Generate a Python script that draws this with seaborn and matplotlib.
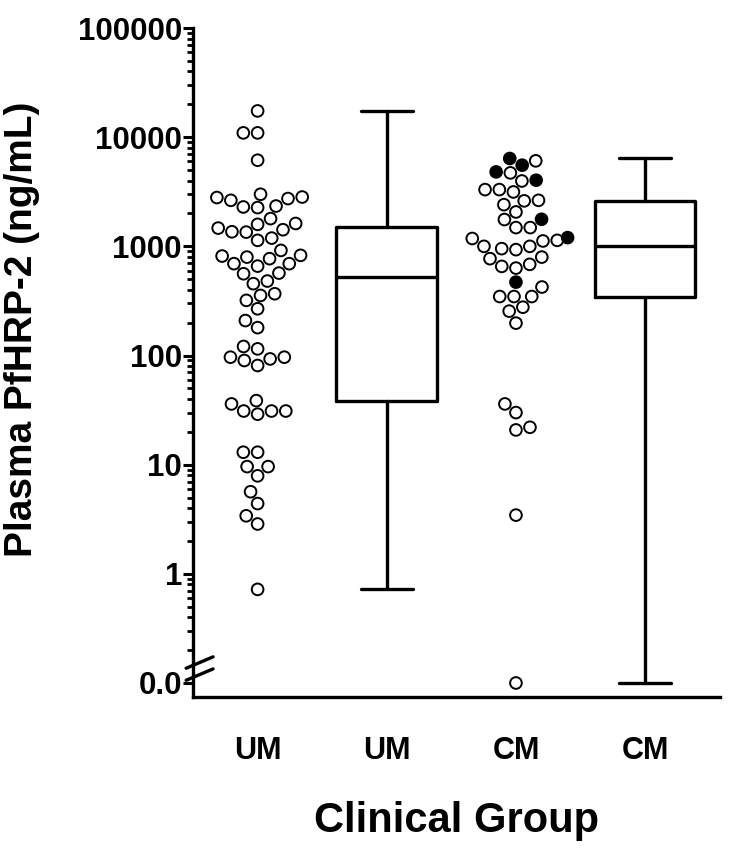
import numpy as np
import pandas as pd
import seaborn as sns
import matplotlib
matplotlib.use("Agg")
import matplotlib.pyplot as plt
from matplotlib.ticker import FixedLocator, FixedFormatter

sns.set_style("ticks")
plt.rcParams['font.family'] = ['Liberation Sans', 'DejaVu Sans']
plt.rcParams['font.weight'] = 'bold'
for key in ['text.color', 'axes.labelcolor', 'xtick.color', 'ytick.color']:
    plt.rcParams[key] = 'black'

# plasma PfHRP-2 (ng/mL)
um_values = [17400, 10950, 10950, 6150,
             3000, 2800, 2640, 2740, 2830, 2340, 2265, 2295,
             1590, 1350, 1420, 1135, 1795, 1470, 1190, 1620, 1360,
             918, 771, 815, 694, 797, 659, 827, 694, 569,
             561, 455, 481, 368, 320, 355, 268, 209, 180, 121, 115,
             96.5, 96.5, 81, 90, 93,
             31, 38.6, 31, 36, 29, 31,
             13, 13, 9.6, 9.6, 7.9, 5.65, 4.4, 3.4, 2.86, 0.72]
cm_open = [6070, 4710, 3970, 3310, 3310, 3150, 2640, 2610, 2410, 2065, 1760,
           1485, 1485, 1180, 1000, 1120, 933, 1135, 953, 1000,
           771, 797, 655, 632, 684, 424, 347, 347, 347, 277, 255, 198,
           36, 30, 20.8, 22, 3.45, 0.0]
cm_filled = [6380, 5540, 4035, 4810, 1770, 1202, 470]

group_keys = ["UM_pts", "UM_box", "CM_pts", "CM_box"]
group_labels = ["UM", "UM", "CM", "CM"]
tick_values = [0.1, 1, 10, 100, 1000, 10000, 100000]
tick_labels = ["0.0", "1", "10", "100", "1000", "10000", "100000"]

BREAK = 0.1  # zero values are drawn on the axis break

def plot_val(v):
    v = np.asarray(v, dtype=float)
    return np.where(v > 0, v, BREAK)

pts = pd.concat([
    pd.DataFrame({"group": "UM_pts", "value": um_values, "kind": "open"}),
    pd.DataFrame({"group": "CM_pts", "value": cm_open, "kind": "open"}),
    pd.DataFrame({"group": "CM_pts", "value": cm_filled, "kind": "filled"}),
])
pts["y"] = plot_val(pts["value"])

fig = plt.figure(figsize=(7.47, 8.57), dpi=100)
ax = fig.add_axes([0.2584, 0.1867, 0.7055, 0.7806])
ax.set_yscale("log")
ax.set_ylim(0.0744, 100000)
ax.set_xlim(-0.5, 3.58)

sns.swarmplot(data=pts, x="group", y="y", hue="kind", order=group_keys,
              hue_order=["open", "filled"],
              palette={"open": "white", "filled": "black"},
              edgecolor="black", linewidth=1.4, size=8.4, legend=False,
              ax=ax, zorder=3)

# box plots (GraphPad style percentiles, whiskers min to max)
stats = []
for vals in [um_values, cm_open + cm_filled]:
    v = np.asarray(vals, dtype=float)
    q1, med, q3 = np.percentile(v, [25, 50, 75], method="weibull")
    st = dict(med=med, q1=q1, q3=q3, whislo=v.min(), whishi=v.max(), fliers=[])
    stats.append({k: (plot_val(x) if k != "fliers" else x) for k, x in st.items()})
lw = 2.4
ax.bxp(stats, positions=[1, 3], widths=0.78, showfliers=False,
       boxprops=dict(linewidth=lw, color="black"),
       medianprops=dict(linewidth=lw, color="black"),
       whiskerprops=dict(linewidth=lw, color="black"),
       capprops=dict(linewidth=lw, color="black"),
       capwidths=0.4, manage_ticks=False)

ax.set_xlim(-0.5, 3.58)
ax.set_ylim(0.0744, 100000)

minor = [k * 10.0 ** d for d in range(-1, 5) for k in range(2, 10)]
ax.yaxis.set_major_locator(FixedLocator(tick_values))
ax.yaxis.set_major_formatter(FixedFormatter(tick_labels))
ax.yaxis.set_minor_locator(FixedLocator(minor))
ax.yaxis.set_minor_formatter(FixedFormatter([]))
ax.tick_params(axis="y", which="major", length=7, width=2.2, labelsize=22.5, pad=1)
ax.tick_params(axis="y", which="minor", length=4.5, width=2.0)
ax.set_xticks(range(4))
ax.set_xticklabels(group_labels)
ax.tick_params(axis="x", length=0, labelsize=22, pad=28)
for t in ax.get_yticklabels() + ax.get_xticklabels():
    t.set_fontweight("bold")

for s in ["top", "right"]:
    ax.spines[s].set_visible(False)
for s in ["left", "bottom"]:
    ax.spines[s].set_linewidth(2.4)
    ax.spines[s].set_color("black")

# axis break marks
for y0 in (0.025, 0.043):
    ax.plot([-0.013, 0.038], [y0, y0 + 0.017], transform=ax.transAxes,
            color="black", lw=2.4, clip_on=False, zorder=5)

ax.set_ylabel("Plasma PfHRP-2 (ng/mL)", fontsize=28, fontweight="bold")
ax.yaxis.set_label_coords(-0.29, 0.55)
ax.set_xlabel("Clinical Group", fontsize=30, fontweight="bold")
ax.xaxis.set_label_coords(0.5, -0.155)

fig.savefig("out.png", dpi=100)
